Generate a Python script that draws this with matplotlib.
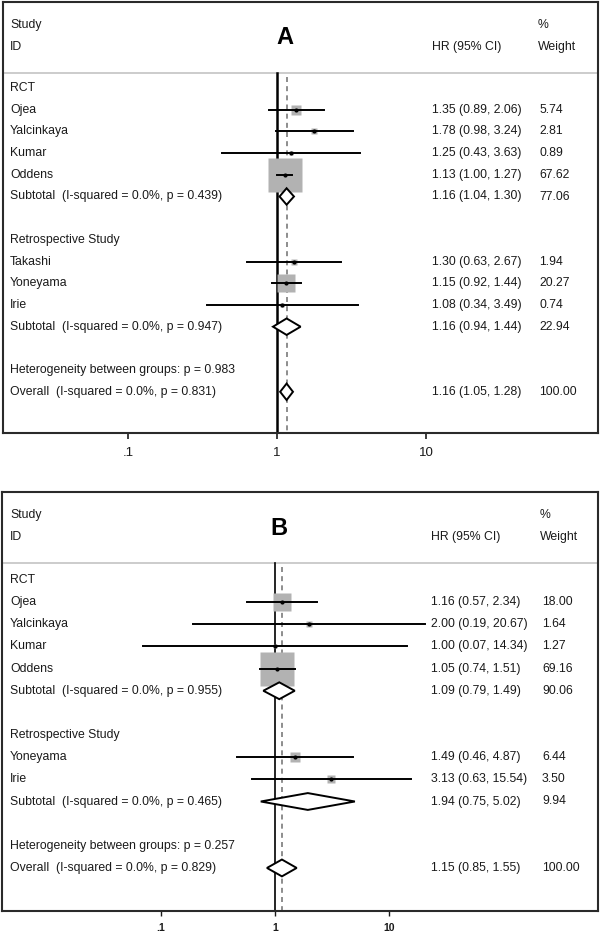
import numpy as np
import matplotlib
matplotlib.use("Agg")
import matplotlib.pyplot as plt
from matplotlib.patches import Polygon
import matplotlib.transforms as mtransforms

plt.rcParams['font.family'] = ['Liberation Sans', 'DejaVu Sans']

# ---- panel A data ----
a_groups = ['RCT', 'Retrospective Study']
a_study = ['Ojea', 'Yalcinkaya', 'Kumar', 'Oddens', 'Takashi', 'Yoneyama', 'Irie']
a_group_of = [0, 0, 0, 0, 1, 1, 1]
a_hr = [1.35, 1.78, 1.25, 1.13, 1.30, 1.15, 1.08]
a_lo = [0.89, 0.98, 0.43, 1.00, 0.63, 0.92, 0.34]
a_hi = [2.06, 3.24, 3.63, 1.27, 2.67, 1.44, 3.49]
a_wt = [5.74, 2.81, 0.89, 67.62, 1.94, 20.27, 0.74]
a_sub_hr = [1.16, 1.16]
a_sub_lo = [1.04, 0.94]
a_sub_hi = [1.30, 1.44]
a_sub_wt = [77.06, 22.94]
a_sub_p = [0.439, 0.947]
a_het_p = 0.983
a_all = [1.16, 1.05, 1.28]
a_all_p = 0.831

# ---- panel B data ----
b_groups = ['RCT', 'Retrospective Study']
b_study = ['Ojea', 'Yalcinkaya', 'Kumar', 'Oddens', 'Yoneyama', 'Irie']
b_group_of = [0, 0, 0, 0, 1, 1]
b_hr = [1.16, 2.00, 1.00, 1.05, 1.49, 3.13]
b_lo = [0.57, 0.19, 0.07, 0.74, 0.46, 0.63]
b_hi = [2.34, 20.67, 14.34, 1.51, 4.87, 15.54]
b_wt = [18.00, 1.64, 1.27, 69.16, 6.44, 3.50]
b_sub_hr = [1.09, 1.94]
b_sub_lo = [0.79, 0.75]
b_sub_hi = [1.49, 5.02]
b_sub_wt = [90.06, 9.94]
b_sub_p = [0.955, 0.465]
b_het_p = 0.257
b_all = [1.15, 0.85, 1.55]
b_all_p = 0.829

xticks = [0.1, 1, 10]
xticklabels = ['.1', '1', '10']

W, H = 600, 933
fig = plt.figure(figsize=(W / 100, H / 100), dpi=100)
TXT = '#1a1a1a'
FS = 8.8


def draw_panel(box, refw, x1, dec, row0, dy, letter, letter_x, cols, data):
    left, right, top, bottom = box
    ax = fig.add_axes([left / W, 1 - bottom / H, (right - left) / W, (bottom - top) / H])
    ax.set_xscale('log')
    ax.set_xlim(10 ** ((left - x1) / dec), 10 ** ((right - x1) / dec))
    ax.set_ylim((bottom - row0) / dy, (top - row0) / dy)
    tr = mtransforms.blended_transform_factory(ax.transAxes, ax.transData)
    fx = lambda px: (px - left) / (right - left)
    lab_x, hr_x, wt_x, hd_x = cols
    (groups, study, gof, hr, lo, hi, wt, s_hr, s_lo, s_hi, s_wt, s_p, het_p, allv, all_p) = data

    def txt(px, row, s, **kw):
        ax.text(fx(px), row, s, transform=tr, ha='left', va='center',
                fontsize=FS, color=TXT, **kw)

    # header
    txt(lab_x, (top + 23 - row0) / dy, 'Study')
    txt(lab_x, (top + 45 - row0) / dy, 'ID')
    txt(hd_x, (top + 23 - row0) / dy, '%')
    txt(hr_x, (top + 45 - row0) / dy, 'HR (95% CI)')
    txt(hd_x, (top + 45 - row0) / dy, 'Weight')
    ax.text(fx(letter_x), (top + 36 - row0) / dy, letter, transform=tr, ha='center',
            va='center', fontsize=17, fontweight='bold', color='black')
    sep = (top + 71 - row0) / dy
    ax.axhline(sep, color='#c8c8c8', lw=1.3, zorder=1)

    ybot = (bottom - row0) / dy
    ax.plot([1, 1], [sep, ybot], color='black', lw=refw, zorder=2)
    ax.plot([allv[0], allv[0]], [sep + 0.2, ybot], color='#7a7a7a', lw=1.2,
            ls=(0, (3, 2.5)), zorder=2)

    def diamond(row, h, l, u):
        d = 0.38
        ax.add_patch(Polygon([(l, row), (h, row - d), (u, row), (h, row + d)], closed=True,
                             facecolor='white', edgecolor='black', lw=1.4, zorder=6))

    row = 0
    for g, gname in enumerate(groups):
        txt(lab_x, row, gname)
        row += 1
        for i in range(len(study)):
            if gof[i] != g:
                continue
            txt(lab_x, row, study[i])
            # box side grows with sqrt of weight (area ~ weight)
            side = 4.15 * np.sqrt(wt[i]) * 0.72
            ax.plot(hr[i], row, marker='s', ms=side, color='#b2b2b2', mec='none', zorder=3)
            ax.plot([lo[i], hi[i]], [row, row], color='black', lw=1.4, zorder=4)
            ax.plot(hr[i], row, marker='o', ms=3, color='black', mec='none', zorder=5)
            txt(hr_x, row, '%.2f (%.2f, %.2f)' % (hr[i], lo[i], hi[i]))
            txt(wt_x, row, '%.2f' % wt[i])
            row += 1
        txt(lab_x, row, 'Subtotal  (I-squared = 0.0%%, p = %.3f)' % s_p[g])
        diamond(row, s_hr[g], s_lo[g], s_hi[g])
        txt(hr_x, row, '%.2f (%.2f, %.2f)' % (s_hr[g], s_lo[g], s_hi[g]))
        txt(wt_x, row, '%.2f' % s_wt[g])
        row += 2
    txt(lab_x, row, 'Heterogeneity between groups: p = %.3f' % het_p)
    row += 1
    txt(lab_x, row, 'Overall  (I-squared = 0.0%%, p = %.3f)' % all_p)
    diamond(row, allv[0], allv[1], allv[2])
    txt(hr_x, row, '%.2f (%.2f, %.2f)' % tuple(allv))
    txt(wt_x, row, '100.00')

    ax.set_xticks(xticks)
    ax.set_xticklabels(xticklabels)
    ax.minorticks_off()
    ax.set_yticks([])
    for s in ax.spines.values():
        s.set_color('#2a2a2a')
        s.set_linewidth(1.5)
    return ax


axA = draw_panel((3, 598, 2, 433), 1.8, 277, 149, 88, 21.7, 'A', 285,
                 (10, 432, 539, 538),
                 (a_groups, a_study, a_group_of, a_hr, a_lo, a_hi, a_wt, a_sub_hr, a_sub_lo,
                  a_sub_hi, a_sub_wt, a_sub_p, a_het_p, a_all, a_all_p))
axA.tick_params(axis='x', direction='out', length=4, width=1.2, pad=6,
                labelsize=9.5, colors='#1a1a1a')

axB = draw_panel((2, 598, 492, 911), 1.2, 275, 114, 580, 22.15, 'B', 279,
                 (10, 431, 542, 540),
                 (b_groups, b_study, b_group_of, b_hr, b_lo, b_hi, b_wt, b_sub_hr, b_sub_lo,
                  b_sub_hi, b_sub_wt, b_sub_p, b_het_p, b_all, b_all_p))
axB.tick_params(axis='x', direction='out', length=3.5, width=1.0, pad=5,
                labelsize=7.5, colors='#1a1a1a')
for t in axB.get_xticklabels():
    t.set_fontweight('bold')

fig.savefig('out.png', dpi=100, facecolor='white')
